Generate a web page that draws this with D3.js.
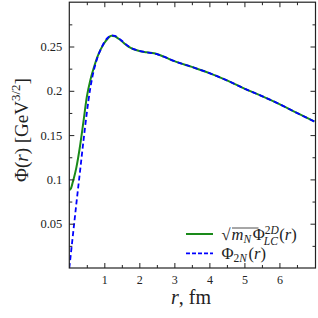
<!DOCTYPE html>
<html>
<head>
<meta charset="utf-8">
<script src="https://cdn.jsdelivr.net/npm/d3@7"></script>
<style>
  body { margin: 0; background: #fff; }
  text { font-family: 'Liberation Serif', 'DejaVu Serif', serif; fill: #222; }
</style>
</head>
<body>
<svg id="chart" width="318" height="318"></svg>
<script>
const rLC = [0, 0.05, 0.1, 0.2, 0.3, 0.4, 0.5, 0.6, 0.7, 0.8, 0.9, 1.0, 1.1, 1.2, 1.3, 1.4, 1.5, 1.6, 1.7, 1.8, 2.0, 2.2, 2.5, 2.7, 3.0, 3.5, 4.0, 4.5, 5.0, 5.5, 6.0, 6.5, 7.0]
const phiLC = [0.088, 0.090, 0.097, 0.113, 0.136, 0.164, 0.193, 0.212, 0.226, 0.238, 0.247, 0.254, 0.259, 0.262, 0.2615, 0.259, 0.256, 0.2525, 0.2495, 0.2475, 0.245, 0.2435, 0.2415, 0.2385, 0.2335, 0.227, 0.220, 0.2118, 0.2025, 0.194, 0.185, 0.175, 0.1653]

const r2N = [0, 0.1, 0.2, 0.3, 0.4, 0.5, 0.6, 0.7, 0.8, 0.9, 1.0, 1.1, 1.2, 1.3, 1.4, 1.5, 1.6, 1.7, 1.8, 2.0, 2.2, 2.5, 2.7, 3.0, 3.5, 4.0, 4.5, 5.0, 5.5, 6.0, 6.5, 7.0]
const phi2N = [0, 0.036, 0.072, 0.107, 0.142, 0.175, 0.203, 0.223, 0.237, 0.247, 0.255, 0.260, 0.2625, 0.262, 0.2595, 0.2565, 0.253, 0.25, 0.2478, 0.245, 0.2435, 0.2415, 0.2385, 0.2335, 0.227, 0.220, 0.2118, 0.2025, 0.194, 0.185, 0.175, 0.1653]

const xTicks = [1, 2, 3, 4, 5, 6]
const yTicks = [0.05, 0.1, 0.15, 0.2, 0.25]

const svg = d3.select('#chart')
const mLeft = 69.3, mRight = 315.5, mTop = 2.2, mBottom = 268

const x = d3.scaleLinear().domain([0, 7.03]).range([mLeft, mRight])
const y = d3.scaleLinear().domain([0, 0.3]).range([mBottom, mTop])

const line = d3.line()
  .x((d) => x(d[0]))
  .y((d) => y(d[1]))
  .curve(d3.curveMonotoneX)

const plot = svg.append('g')

plot.append('defs').append('clipPath').attr('id', 'clip')
  .append('rect').attr('x', mLeft).attr('y', mTop)
  .attr('width', mRight - mLeft).attr('height', mBottom - mTop)

plot.append('path')
  .datum(d3.zip(rLC, phiLC))
  .attr('d', line)
  .attr('clip-path', 'url(#clip)')
  .attr('fill', 'none')
  .attr('stroke', '#1a8a1a')
  .attr('stroke-width', 2)

plot.append('path')
  .datum(d3.zip(r2N, phi2N))
  .attr('d', line)
  .attr('clip-path', 'url(#clip)')
  .attr('fill', 'none')
  .attr('stroke', '#0000ff')
  .attr('stroke-width', 1.8)
  .attr('stroke-dasharray', '5,3')

// axes, ticks inward on all four sides
const xMinor = d3.range(0.5, 7, 1)
const yMinor = d3.range(0.025, 0.3, 0.05)

const axisStyle = (g) => {
  g.select('.domain').remove()
  g.selectAll('line').attr('stroke', '#222')
}

svg.append('g').attr('transform', `translate(0,${mBottom})`)
  .call(d3.axisBottom(x).tickValues(xTicks).tickSize(-5).tickPadding(7).tickFormat(d3.format('d')))
  .call(axisStyle)
  .call((g) => g.selectAll('text').attr('font-size', 12).attr('font-family', "'Liberation Serif', serif").attr('fill', '#222'))
svg.append('g').attr('transform', `translate(0,${mBottom})`)
  .call(d3.axisBottom(x).tickValues(xMinor).tickSize(-3).tickFormat(''))
  .call(axisStyle)
svg.append('g').attr('transform', `translate(0,${mTop})`)
  .call(d3.axisTop(x).tickValues(xTicks).tickSize(-5).tickFormat(''))
  .call(axisStyle)
svg.append('g').attr('transform', `translate(0,${mTop})`)
  .call(d3.axisTop(x).tickValues(xMinor).tickSize(-3).tickFormat(''))
  .call(axisStyle)

svg.append('g').attr('transform', `translate(${mLeft},0)`)
  .call(d3.axisLeft(y).tickValues(yTicks).tickSize(-5).tickPadding(7).tickFormat((d) => String(d)))
  .call(axisStyle)
  .call((g) => g.selectAll('text').attr('font-size', 12.5).attr('font-family', "'Liberation Serif', serif").attr('fill', '#222'))
svg.append('g').attr('transform', `translate(${mLeft},0)`)
  .call(d3.axisLeft(y).tickValues(yMinor).tickSize(-3).tickFormat(''))
  .call(axisStyle)
svg.append('g').attr('transform', `translate(${mRight},0)`)
  .call(d3.axisRight(y).tickValues(yTicks).tickSize(-5).tickFormat(''))
  .call(axisStyle)
svg.append('g').attr('transform', `translate(${mRight},0)`)
  .call(d3.axisRight(y).tickValues(yMinor).tickSize(-3).tickFormat(''))
  .call(axisStyle)

svg.append('rect')
  .attr('x', mLeft).attr('y', mTop)
  .attr('width', mRight - mLeft).attr('height', mBottom - mTop)
  .attr('fill', 'none').attr('stroke', '#222').attr('stroke-width', 1.2)

// axis titles
const xt = svg.append('text').attr('x', 191).attr('y', 303.5).attr('text-anchor', 'middle').attr('font-size', 20)
xt.append('tspan').attr('font-style', 'italic').text('r')
xt.append('tspan').text(', fm')

const yt = svg.append('text')
  .attr('transform', 'translate(28,130) rotate(-90)')
  .attr('text-anchor', 'middle').attr('font-size', 19)
yt.append('tspan').text('Φ(')
yt.append('tspan').attr('font-style', 'italic').text('r')
yt.append('tspan').text(')  [GeV')
yt.append('tspan').attr('font-size', 13).attr('dy', -8).text('3/2')
yt.append('tspan').attr('dy', 8).text(']')

// legend
const lg = svg.append('g').attr('transform', 'translate(186,0)')
lg.append('line').attr('x1', 0).attr('x2', 27).attr('y1', 234).attr('y2', 234)
  .attr('stroke', '#1a8a1a').attr('stroke-width', 2)
lg.append('line').attr('x1', 0).attr('x2', 27).attr('y1', 253.3).attr('y2', 253.3)
  .attr('stroke', '#0000ff').attr('stroke-width', 1.8).attr('stroke-dasharray', '4,2')

const t1 = lg.append('text').attr('x', 35.5).attr('y', 240).attr('font-size', 16.5)
t1.append('tspan').text('√')
t1.append('tspan').attr('font-style', 'italic').attr('dx', 1).text('m')
t1.append('tspan').attr('font-style', 'italic').attr('font-size', 11.5).attr('dy', 3).text('N')
t1.append('tspan').attr('dy', -3).attr('dx', 1.5).text('Φ')
t1.append('tspan').attr('font-size', 11.5).attr('dy', -6).text('2')
t1.append('tspan').attr('font-size', 11.5).attr('font-style', 'italic').text('D')
t1.append('tspan').attr('font-size', 11.5).attr('font-style', 'italic').attr('dx', -15).attr('dy', 11).text('LC')
t1.append('tspan').attr('dy', -5).attr('dx', 1.5).text('(')
t1.append('tspan').attr('font-style', 'italic').text('r')
t1.append('tspan').text(')')
lg.append('line').attr('x1', 46).attr('x2', 72.5).attr('y1', 228).attr('y2', 228)
  .attr('stroke', '#222').attr('stroke-width', 0.8)

const t2 = lg.append('text').attr('x', 35.5).attr('y', 258.5).attr('font-size', 16.5)
t2.append('tspan').text('Φ')
t2.append('tspan').attr('font-size', 11.5).attr('dy', 3).text('2')
t2.append('tspan').attr('font-size', 11.5).attr('font-style', 'italic').text('N')
t2.append('tspan').attr('dy', -3).attr('dx', 1.5).text('(')
t2.append('tspan').attr('font-style', 'italic').text('r')
t2.append('tspan').text(')')
</script>
</body>
</html>
